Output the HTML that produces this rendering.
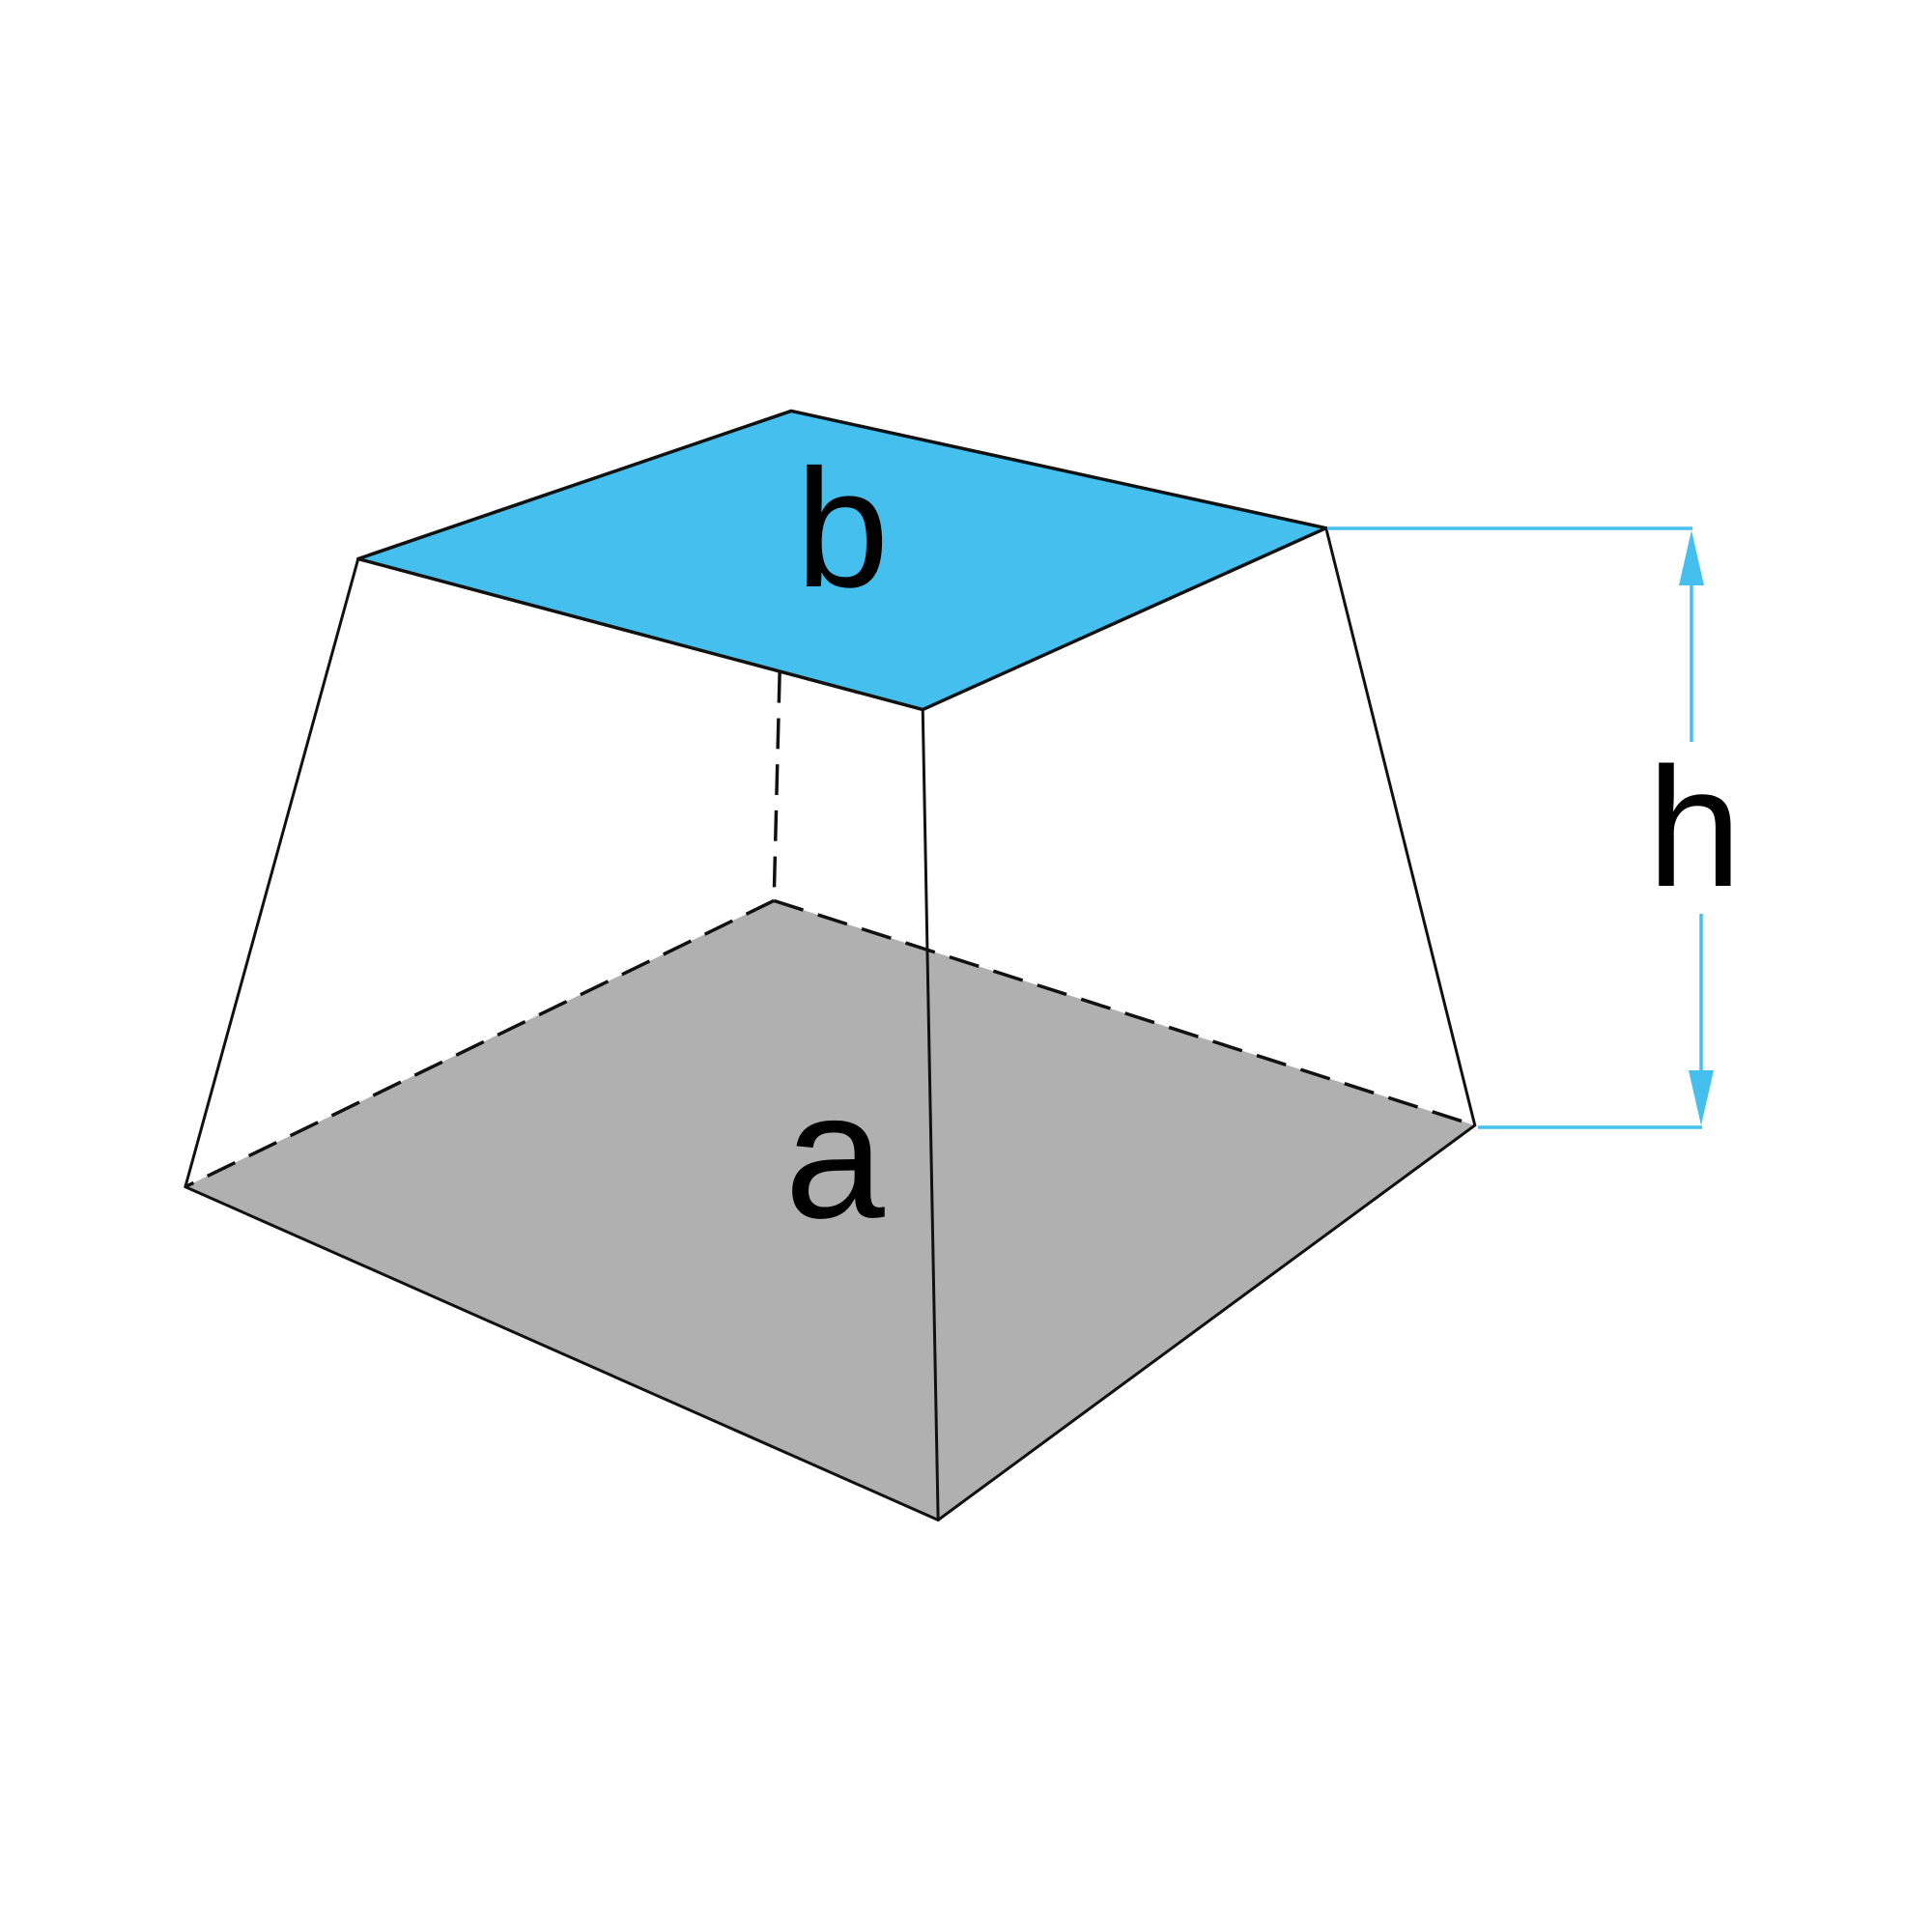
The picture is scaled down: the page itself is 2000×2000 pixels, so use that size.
<!DOCTYPE html>
<html><head><meta charset="utf-8"><style>html,body{margin:0;padding:0;background:#fff}svg{display:block}</style></head>
<body>
<svg width="2000" height="2000" viewBox="0 0 2000 2000" xmlns="http://www.w3.org/2000/svg">
<rect width="2000" height="2000" fill="#fff"/>
<g transform="scale(0.994)">
<polygon points="806,938 1536,1172 977,1583 193,1236" fill="#b0b0b0"/>
<g stroke="#111" stroke-width="3.5" stroke-dasharray="32,16" fill="none">
<line x1="806" y1="938" x2="193" y2="1236"/>
<line x1="806" y1="938" x2="1536" y2="1172"/>
<line x1="812" y1="700" x2="806" y2="938"/>
</g>
<polygon points="824,428 1381,550 961,739 373,582" fill="#45c0ee" stroke="#111" stroke-width="3.5" stroke-linejoin="round"/>
<g stroke="#111" stroke-width="3" fill="none" stroke-linecap="round">
<line x1="373" y1="582" x2="193" y2="1236"/>
<line x1="1381" y1="550" x2="1536" y2="1172"/>
<line x1="961" y1="739" x2="977" y2="1583"/>
<line x1="193" y1="1236" x2="977" y2="1583"/>
<line x1="977" y1="1583" x2="1536" y2="1172"/>
</g>
</g>
<g stroke="#45c0ee" stroke-width="3.5" fill="none">
<line x1="1374" y1="547" x2="1752" y2="547"/>
<line x1="1530" y1="1167" x2="1762" y2="1167"/>
<line x1="1751" y1="600" x2="1751" y2="768"/>
<line x1="1761" y1="946" x2="1761" y2="1115"/>
</g>
<polygon points="1751,549 1738,606 1764,606" fill="#45c0ee"/>
<polygon points="1761,1165 1748,1108 1774,1108" fill="#45c0ee"/>
<g font-family="Liberation Sans, Arial, sans-serif" fill="#000" text-anchor="middle">
<text x="872" y="607" font-size="174">b</text>
<text x="864" y="1260" font-size="186">a</text>
<text x="1754" y="917" font-size="176">h</text>
</g>
</svg>
</body></html>
